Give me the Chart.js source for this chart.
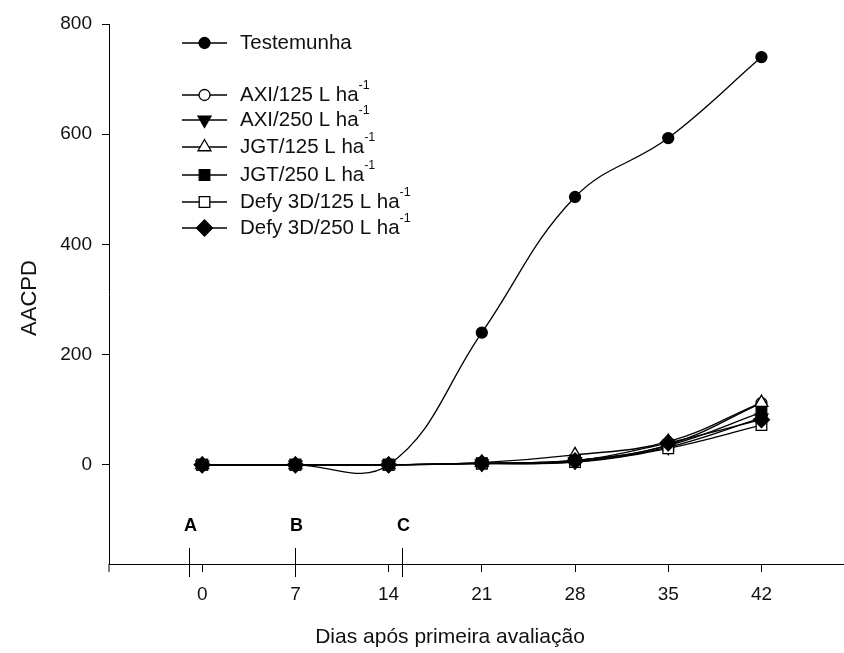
<!DOCTYPE html>
<html>
<head>
<meta charset="utf-8">
<script src="https://cdn.jsdelivr.net/npm/chart.js@4/dist/chart.umd.min.js"></script>
<style>
  html, body { margin: 0; padding: 0; background: #fff; overflow: hidden; }
</style>
</head>
<body>
<canvas id="myChart" width="844" height="653"></canvas>
<script>
// dias após a primeira avaliação
const days = [0, 7, 14, 21, 28, 35, 42]
const xTicks = [0, 7, 14, 21, 28, 35, 42]
const yTicks = [0, 200, 400, 600, 800]

// AACPD por tratamento
const testemunha = [0, 0, 0, 240, 486, 593, 740]
const axi125 = [0, 0, 0, 3, 8, 36, 112]
const axi250 = [0, 0, 0, 2, 6, 32, 85]
const jgt125 = [0, 0, 0, 4, 18, 42, 113]
const jgt250 = [0, 0, 0, 3, 8, 35, 95]
const defy125 = [0, 0, 0, 2, 5, 30, 72]
const defy250 = [0, 0, 0, 3, 7, 40, 82]

// momentos das aplicações A, B, C
const phaseLabels = ['A', 'B', 'C']
const phaseDays = [-1, 7, 15]

const xTitle = 'Dias após primeira avaliação'
const yTitle = 'AACPD'

const FONT = "'Liberation Sans', Arial, sans-serif"

const series = [
  { label: 'Testemunha', unit: '', data: testemunha, style: 'circle', r: 5.5, fill: '#000', rot: 0 },
  { label: 'AXI/125 L ha', unit: '-1', data: axi125, style: 'circle', r: 5.5, fill: '#fff', rot: 0 },
  { label: 'AXI/250 L ha', unit: '-1', data: axi250, style: 'triangle', r: 7.5, fill: '#000', rot: 180 },
  { label: 'JGT/125 L ha', unit: '-1', data: jgt125, style: 'triangle', r: 7.5, fill: '#fff', rot: 0 },
  { label: 'JGT/250 L ha', unit: '-1', data: jgt250, style: 'rect', r: 7.5, fill: '#000', rot: 0 },
  { label: 'Defy 3D/125 L ha', unit: '-1', data: defy125, style: 'rect', r: 7.5, fill: '#fff', rot: 0 },
  { label: 'Defy 3D/250 L ha', unit: '-1', data: defy250, style: 'rectRot', r: 8, fill: '#000', rot: 0 }
]

// legenda desenhada à mão: linha + marcador + texto com expoente
const legendRows = [43, 95, 120, 147, 175, 202, 228]
const legendPlugin = {
  id: 'sigmaLegend',
  afterDraw(chart) {
    const ctx = chart.ctx
    ctx.save()
    series.forEach((s, i) => {
      const y = legendRows[i]
      ctx.strokeStyle = '#000'
      ctx.lineWidth = 1.3
      ctx.beginPath()
      ctx.moveTo(182, y)
      ctx.lineTo(227, y)
      ctx.stroke()
      ctx.fillStyle = s.fill
      ctx.lineWidth = 1.3
      Chart.helpers.drawPoint(ctx, { pointStyle: s.style, radius: s.r, rotation: s.rot, borderWidth: 1.3 }, 204.5, y)
      ctx.fillStyle = '#111'
      ctx.font = '20.5px ' + FONT
      ctx.textBaseline = 'middle'
      ctx.textAlign = 'left'
      ctx.fillText(s.label, 240, y)
      if (s.unit) {
        const w = ctx.measureText(s.label).width
        ctx.font = '12.5px ' + FONT
        ctx.fillText(s.unit, 240 + w, y - 9)
      }
    })
    ctx.restore()
  }
}

// marcas A, B, C sobre o eixo x e títulos dos eixos
const phasePlugin = {
  id: 'phases',
  afterDraw(chart) {
    const ctx = chart.ctx
    const xs = chart.scales.x
    const area = chart.chartArea
    const base = area.bottom
    ctx.save()
    ctx.strokeStyle = '#000'
    ctx.lineWidth = 1
    // prolongamento do eixo y abaixo do eixo x
    ctx.beginPath()
    ctx.moveTo(area.left, base)
    ctx.lineTo(area.left, base + 8)
    ctx.stroke()
    phaseDays.forEach((d, i) => {
      const px = Math.round(xs.getPixelForValue(d)) + 0.5
      ctx.beginPath()
      ctx.moveTo(px, base - 16)
      ctx.lineTo(px, base + 13)
      ctx.stroke()
      ctx.fillStyle = '#000'
      ctx.font = 'bold 18px ' + FONT
      ctx.textAlign = 'center'
      ctx.textBaseline = 'middle'
      ctx.fillText(phaseLabels[i], px + 1, base - 38)
    })

    ctx.fillStyle = '#111'
    ctx.textAlign = 'center'
    ctx.textBaseline = 'middle'
    ctx.font = '21px ' + FONT
    ctx.fillText(xTitle, 450, 637)
    ctx.translate(30, (area.top + area.bottom) / 2 + 4)
    ctx.rotate(-Math.PI / 2)
    ctx.font = '22px ' + FONT
    ctx.fillText(yTitle, 0, 0)
    ctx.restore()
  }
}

const ctx = document.querySelector('#myChart').getContext('2d')
const myChart = new Chart(ctx, {
  type: 'line',
  data: {
    datasets: series.map(s => ({
      label: s.label,
      data: days.map((d, i) => ({ x: d, y: s.data[i] })),
      borderColor: '#000',
      borderWidth: 1.3,
      tension: 0.4,
      pointStyle: s.style,
      pointRadius: s.r,
      pointRotation: s.rot,
      pointBackgroundColor: s.fill,
      pointBorderColor: '#000',
      pointBorderWidth: 1.3,
      clip: false
    })).reverse()
  },
  options: {
    responsive: false,
    animation: false,
    layout: { autoPadding: false, padding: { top: 24, right: 0, bottom: 0, left: 0 } },
    plugins: { legend: { display: false }, tooltip: { enabled: false } },
    scales: {
      x: {
        type: 'linear',
        min: -7,
        max: 48.2,
        afterBuildTicks: axis => { axis.ticks = xTicks.map(v => ({ value: v })) },
        afterFit: axis => { axis.height = 89 },
        grid: { drawOnChartArea: false, drawTicks: true, tickLength: 8, color: '#000', lineWidth: 1 },
        border: { color: '#000', width: 1 },
        ticks: { color: '#111', font: { family: FONT, size: 19 }, padding: 11, maxRotation: 0 }
      },
      y: {
        min: -180,
        max: 800,
        afterBuildTicks: axis => { axis.ticks = yTicks.map(v => ({ value: v })) },
        afterFit: axis => { axis.width = 109 },
        grid: { drawOnChartArea: false, drawTicks: true, tickLength: 7, color: '#000', lineWidth: 1 },
        border: { color: '#000', width: 1 },
        ticks: { color: '#111', font: { family: FONT, size: 19 }, padding: 10 }
      }
    }
  },
  plugins: [legendPlugin, phasePlugin]
})
</script>
</body>
</html>
